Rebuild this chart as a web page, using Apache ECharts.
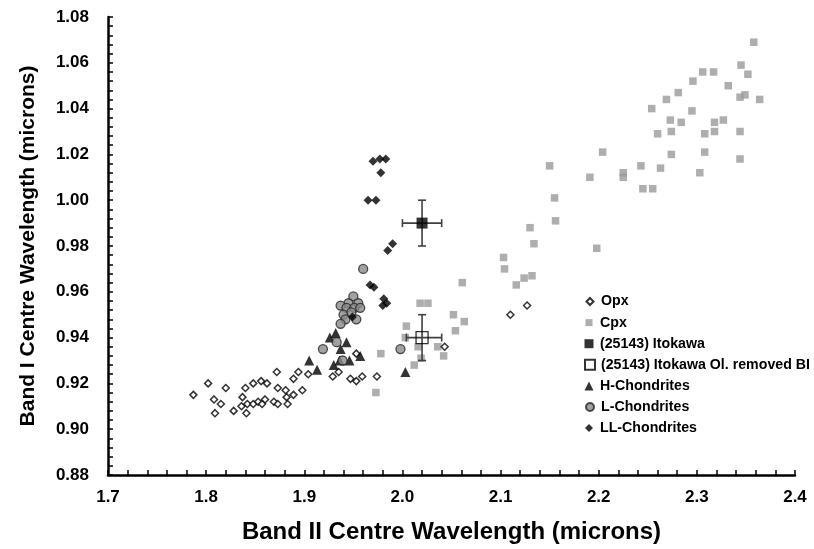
<!DOCTYPE html>
<html><head><meta charset="utf-8">
<script src="https://cdn.jsdelivr.net/npm/echarts@6/dist/echarts.min.js"></script>
<style>html,body{margin:0;padding:0;background:#fff}#c{width:814px;height:549px}</style>
</head><body><div id="c"></div>
<script>
const xTicks = [1.7, 1.8, 1.9, 2.0, 2.1, 2.2, 2.3, 2.4];
const yTicks = [0.88, 0.90, 0.92, 0.94, 0.96, 0.98, 1.00, 1.02, 1.04, 1.06, 1.08];
const seriesNames = ['Opx', 'Cpx', '(25143) Itokawa', '(25143) Itokawa Ol. removed BI', 'H-Chondrites', 'L-Chondrites', 'LL-Chondrites'];

const opx = [[1.787,0.915],[1.802,0.920],[1.808,0.913],[1.815,0.911],[1.809,0.907],[1.820,0.918],[1.828,0.908],[1.837,0.914],[1.836,0.910],[1.840,0.918],[1.841,0.907],[1.842,0.911],[1.848,0.920],[1.848,0.911],[1.853,0.912],[1.856,0.921],[1.857,0.911],[1.860,0.913],[1.862,0.920],[1.869,0.912],[1.873,0.911],[1.872,0.925],[1.873,0.918],[1.881,0.917],[1.882,0.914],[1.883,0.911],[1.889,0.915],[1.889,0.922],[1.894,0.925],[1.898,0.917],[1.904,0.924],[1.929,0.923],[1.935,0.925],[1.947,0.922],[1.953,0.921],[1.959,0.923],[1.974,0.923],[1.953,0.933],[2.043,0.936],[2.110,0.950],[2.127,0.954]];

const cpx = [[2.358,1.069],[2.345,1.059],[2.352,1.055],[2.306,1.056],[2.317,1.056],[2.296,1.052],[2.332,1.050],[2.281,1.047],[2.269,1.044],[2.349,1.046],[2.344,1.045],[2.364,1.044],[2.254,1.040],[2.295,1.039],[2.273,1.035],[2.284,1.034],[2.318,1.034],[2.327,1.035],[2.260,1.029],[2.274,1.030],[2.308,1.029],[2.318,1.030],[2.344,1.030],[2.204,1.021],[2.274,1.020],[2.308,1.021],[2.344,1.018],[2.243,1.015],[2.225,1.012],[2.225,1.010],[2.263,1.014],[2.303,1.012],[2.191,1.010],[2.245,1.005],[2.255,1.005],[2.150,1.015],[2.198,0.979],[2.155,1.001],[2.156,0.991],[2.130,0.988],[2.134,0.981],[2.103,0.975],[2.104,0.970],[2.132,0.967],[2.124,0.966],[2.116,0.963],[2.061,0.964],[2.018,0.955],[2.026,0.955],[2.052,0.950],[2.063,0.947],[2.054,0.943],[2.004,0.945],[2.003,0.940],[2.016,0.936],[2.036,0.936],[2.042,0.932],[2.019,0.931],[2.012,0.928],[1.978,0.933],[1.973,0.916]];

const itokawa = [[2.02, 0.99]];
const itokawaErr = [[2.02, 0.99, 2.00, 2.04, 0.98, 1.00]];
const itokawaOl = [[2.02, 0.94]];
const itokawaOlErr = [[2.02, 0.94, 2.004, 2.04, 0.93, 0.95]];

const hChond = [[1.905,0.930],[1.913,0.926],[1.926,0.940],[1.932,0.942],[1.943,0.938],[1.937,0.935],[1.936,0.930],[1.946,0.930],[1.930,0.928],[1.957,0.932],[2.003,0.925]];
const lChond = [[1.960,0.970],[1.950,0.958],[1.945,0.955],[1.955,0.955],[1.937,0.954],[1.943,0.953],[1.951,0.953],[1.957,0.953],[1.940,0.950],[1.948,0.951],[1.953,0.948],[1.942,0.948],[1.937,0.946],[1.933,0.938],[1.919,0.935],[1.939,0.930],[1.998,0.935]];
const llChond = [[1.970,1.017],[1.977,1.018],[1.983,1.018],[1.978,1.012],[1.965,1.000],[1.973,1.000],[1.990,0.981],[1.985,0.978],[1.967,0.963],[1.971,0.962],[1.981,0.957],[1.984,0.955],[1.980,0.954],[1.949,0.949]];

const FONT = "'Liberation Sans', Arial, sans-serif";

function errRender(params, api) {
  const x = api.value(0), y = api.value(1);
  const pL = api.coord([api.value(2), y]);
  const pR = api.coord([api.value(3), y]);
  const pB = api.coord([x, api.value(4)]);
  const pT = api.coord([x, api.value(5)]);
  const c = 4;
  const st = {stroke: '#404040', lineWidth: 1.6};
  const L = (x1, y1, x2, y2) => ({type: 'line', shape: {x1, y1, x2, y2}, style: st});
  return {type: 'group', children: [
    L(pL[0], pL[1], pR[0], pR[1]),
    L(pL[0], pL[1] - c, pL[0], pL[1] + c),
    L(pR[0], pR[1] - c, pR[0], pR[1] + c),
    L(pB[0], pB[1], pT[0], pT[1]),
    L(pB[0] - c, pB[1], pB[0] + c, pB[1]),
    L(pT[0] - c, pT[1], pT[0] + c, pT[1])
  ]};
}

const legendIcon = [7, 7, 9, 10, 9, 8, 8];
const legends = seriesNames.map((name, i) => {
  const h = legendIcon[i];
  const rowC = 301.5 + i * 21.1;
  return {
    data: [name], left: 589 - h / 2, top: rowC - 8, orient: 'vertical',
    itemWidth: h, itemHeight: h, itemGap: 0, padding: 0, symbolKeepAspect: true,
    textStyle: {fontFamily: FONT, fontWeight: 'bold', fontSize: 14.2, lineHeight: 16, color: '#000',
      padding: [0, 0, 0, 6 - h / 2]}
  };
});

const chart = echarts.init(document.getElementById('c'), null, {renderer: 'canvas'});
chart.setOption({
  animation: false,
  backgroundColor: '#fff',
  grid: {left: 108, right: 19, top: 17, bottom: 74},
  legend: legends,
  xAxis: {
    type: 'value', min: xTicks[0], max: xTicks[xTicks.length - 1], interval: 0.1,
    name: 'Band II Centre Wavelength (microns)', nameLocation: 'middle', nameGap: 45,
    nameTextStyle: {fontFamily: FONT, fontWeight: 'bold', fontSize: 24, color: '#000'},
    axisLine: {lineStyle: {color: '#000', width: 2.5}},
    axisTick: {inside: true, length: 5, lineStyle: {color: '#000', width: 1.5}},
    minorTick: {show: true, splitNumber: 5, length: 5, lineStyle: {color: '#000', width: 1.5}},
    axisLabel: {margin: 14, fontFamily: FONT, fontWeight: 'bold', fontSize: 17, color: '#000', formatter: v => v.toFixed(1)},
    splitLine: {show: false}
  },
  yAxis: {
    type: 'value', min: yTicks[0], max: yTicks[yTicks.length - 1], interval: 0.02,
    name: 'Band I Centre Wavelength (microns)', nameLocation: 'middle', nameGap: 69,
    nameTextStyle: {fontFamily: FONT, fontWeight: 'bold', fontSize: 21, color: '#000'},
    axisLine: {lineStyle: {color: '#000', width: 2.5}},
    axisTick: {inside: true, length: 5, lineStyle: {color: '#000', width: 1.5}},
    minorTick: {show: true, splitNumber: 5, length: 5, lineStyle: {color: '#000', width: 1.5}},
    axisLabel: {margin: 19, fontFamily: FONT, fontWeight: 'bold', fontSize: 17, color: '#000', formatter: v => v.toFixed(2)},
    splitLine: {show: false}
  },
  series: [
    {name: seriesNames[0], type: 'scatter', data: opx, symbol: 'diamond', symbolSize: 7, z: 3,
      itemStyle: {color: '#fff', borderColor: '#000', borderWidth: 1.5}},
    {name: seriesNames[1], type: 'scatter', data: cpx, symbol: 'rect', symbolSize: 7.5, z: 2,
      itemStyle: {color: '#9a9a9a', borderWidth: 0}},
    {type: 'custom', data: itokawaErr, renderItem: errRender, encode: {x: 0, y: 1}, z: 4, silent: true},
    {type: 'custom', data: itokawaOlErr, renderItem: errRender, encode: {x: 0, y: 1}, z: 4, silent: true},
    {name: seriesNames[2], type: 'scatter', data: itokawa, symbol: 'rect', symbolSize: 11, z: 5,
      itemStyle: {color: '#000', borderWidth: 0}},
    {name: seriesNames[3], type: 'scatter', data: itokawaOl, symbol: 'rect', symbolSize: 12, z: 5,
      itemStyle: {color: 'rgba(255,255,255,0)', borderColor: '#000', borderWidth: 1.3}},
    {name: seriesNames[4], type: 'scatter', data: hChond, symbol: 'triangle', symbolSize: 10, z: 6,
      itemStyle: {color: '#000', borderWidth: 0}},
    {name: seriesNames[5], type: 'scatter', data: lChond, symbol: 'circle', symbolSize: 9, z: 7,
      itemStyle: {color: '#8a8a8a', borderColor: '#262626', borderWidth: 1.3}},
    {name: seriesNames[6], type: 'scatter', data: llChond, symbol: 'diamond', symbolSize: 9, z: 8,
      itemStyle: {color: '#000', borderWidth: 0}}
  ]
});
</script></body></html>
